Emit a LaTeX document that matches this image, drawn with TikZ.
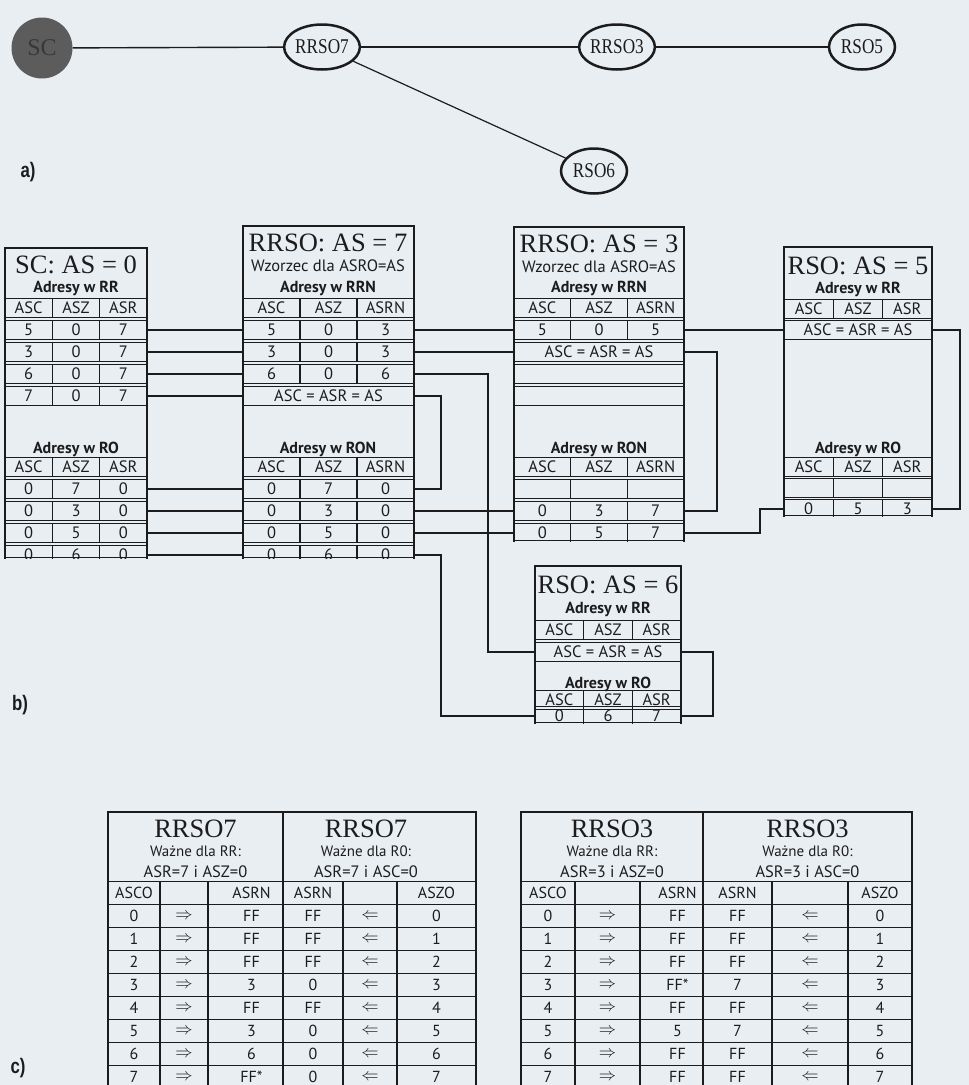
\documentclass[tikz,border=0pt]{standalone}
\usepackage{fontspec}
\setmainfont{Liberation Serif}
\newfontfamily\sansf{PT Sans}
\newfontfamily\narrowserif[FakeStretch=0.82]{Liberation Serif}
\newfontfamily\labf[FakeStretch=0.8]{Liberation Sans}
\usetikzlibrary{shapes.geometric}
\definecolor{bg}{HTML}{E9EEF3}
\definecolor{ink}{HTML}{1C1C1C}
\definecolor{scfill}{HTML}{5C5C5C}
\definecolor{sctext}{HTML}{383838}

\newcommand{\trow}[7]{%
  \node[rowbox,minimum width={(#3-#2)*1pt}] (#1) at ({(#2+#3)/2},#4) {};
  \draw[cellsep] ({#2+(#3-#2)/3},#4-9.5) -- ({#2+(#3-#2)/3},#4+9.5);
  \draw[cellsep] ({#2+2*(#3-#2)/3},#4-9.5) -- ({#2+2*(#3-#2)/3},#4+9.5);
  \node[cell] (#1-a) at ({#2+(#3-#2)/6},#4) {#5};
  \node[cell] (#1-b) at ({(#2+#3)/2},#4) {#6};
  \node[cell] (#1-c) at ({#2+5*(#3-#2)/6},#4) {#7};
}
\newcommand{\mrow}[5]{%
  \node[rowbox,minimum width={(#3-#2)*1pt}] (#1) at ({(#2+#3)/2},#4) {#5};
}
\newcommand{\crow}[8]{%
  \node[crowbox,minimum width={(\cR-\cL)*1pt}] (#1) at ({(\cL+\cR)/2},#2) {};
  \foreach \xx in {\cA,\cB,\cD,\cE}{\draw[cellsep] (\xx,#2-11.4) -- (\xx,#2+11.4);}
  \node[ccell] (#1-1) at ({(\cL+\cA)/2},#2) {#3};
  \node[ccell] (#1-2) at ({(\cA+\cB)/2},#2) {#4};
  \node[ccell] (#1-3) at ({(\cB+\cM)/2+6},#2) {#5};
  \node[ccell] (#1-4) at ({(\cM+\cD)/2},#2) {#6};
  \node[ccell] (#1-5) at ({(\cD+\cE)/2},#2) {#7};
  \node[ccell] (#1-6) at ({(\cE+\cR)/2},#2) {#8};
}
\newcommand{\ra}{{\fontsize{18}{18}\selectfont$\Rightarrow$}}
\newcommand{\la}{{\fontsize{18}{18}\selectfont$\Leftarrow$}}

\begin{document}
\begin{tikzpicture}[x=1pt,y=-1pt,
  tline/.style={draw=ink,line width=1.4pt},
  cellsep/.style={draw=ink,line width=1.1pt},
  conn/.style={draw=ink,line width=1.4pt},
  rowbox/.style={draw=ink,line width=1.3pt,rectangle,inner sep=0pt,minimum height=19pt,text=ink,font=\sansf\fontsize{16.5}{16.5}\selectfont},
  crowbox/.style={draw=ink,line width=1.1pt,rectangle,inner sep=0pt,minimum height=22.9pt},
  cell/.style={inner sep=0pt,text=ink,font=\sansf\fontsize{16.5}{16.5}\selectfont},
  ccell/.style={inner sep=0pt,text=ink,font=\sansf\fontsize{16}{16}\selectfont},
  ttl/.style={inner sep=0pt,text=ink,font=\fontsize{26.5}{26.5}\selectfont},
  sub/.style={inner sep=0pt,text=ink,font=\sansf\bfseries\fontsize{16}{16}\selectfont},
  wz/.style={inner sep=0pt,text=ink,font=\sansf\fontsize{16.5}{16.5}\selectfont},
  wn/.style={inner sep=0pt,text=ink,font=\sansf\fontsize{15}{15}\selectfont},
  net/.style={ellipse,draw=ink,line width=2.5pt,inner sep=0pt,minimum width=70pt,minimum height=45pt,font=\narrowserif\fontsize{21}{21}\selectfont,text=ink},
  lab/.style={inner sep=0pt,text=ink,font=\labf\bfseries\fontsize{21}{21}\selectfont},
  netline/.style={draw=ink,line width=1.4pt},
]
\fill[bg] (0,0) rectangle (969,1085);
\useasboundingbox (0,0) rectangle (969,1085);

% ---------------- a) ----------------
\node[circle,fill=scfill,minimum size=61pt,inner sep=0pt,text=sctext,font=\fontsize{24}{24}\selectfont] (sc) at (42,48) {SC};
\node[net] (rrso7) at (322,47) {RRSO7};
\node[net,minimum width=74pt] (rrso3) at (617,47) {RRSO3};
\node[net,minimum width=66pt] (rso5) at (862,47) {RSO5};
\node[net,minimum width=66pt] (rso6) at (594,171) {RSO6};
\draw[netline] (sc) -- (rrso7);
\draw[netline,line width=2.4pt] (rrso7) -- (rrso3);
\draw[netline] (rrso3) -- (rso5);
\draw[netline,line width=1.2pt] (rrso7) -- (rso6);
\node[lab] (la) at (28,172) {a)};

% ---------------- b) SC ----------------
\begin{scope}
\clip (3,240) rectangle (149,558);
\node[ttl] (sct) at (76,265) {SC: AS = 0};
\node[sub] (scs1) at (76,288) {Adresy w RR};
\trow{sch1}{5}{147}{308}{ASC}{ASZ}{ASR}
\trow{sc1}{5}{147}{330}{5}{0}{7}
\trow{sc2}{5}{147}{352}{3}{0}{7}
\trow{sc3}{5}{147}{374}{6}{0}{7}
\trow{sc4}{5}{147}{396}{7}{0}{7}
\node[sub] (scs2) at (76,449) {Adresy w RO};
\trow{sch2}{5}{147}{467}{ASC}{ASZ}{ASR}
\trow{sc5}{5}{147}{489}{0}{7}{0}
\trow{sc6}{5}{147}{511}{0}{3}{0}
\trow{sc7}{5}{147}{533}{0}{5}{0}
\trow{sc8}{5}{147}{555}{0}{6}{0}
\end{scope}
\draw[tline] (5,556.5) -- (5,248) -- (147,248) -- (147,556.5);
\draw[tline] (5,557.5) -- (147,557.5);

% ---------------- b) RRSO7 ----------------
\begin{scope}
\clip (241,220) rectangle (416,558);
\node[ttl] (at7) at (328,243) {RRSO: AS = 7};
\node[wz] (aw) at (328,266) {Wzorzec dla ASRO=AS};
\node[sub] (as1) at (328,288) {Adresy w RRN};
\trow{rAh1}{243}{414}{308}{ASC}{ASZ}{ASRN}
\trow{rA1}{243}{414}{330}{5}{0}{3}
\trow{rA2}{243}{414}{352}{3}{0}{3}
\trow{rA3}{243}{414}{374}{6}{0}{6}
\mrow{rA4}{243}{414}{396}{ASC = ASR = AS}
\node[sub] (as2) at (328,449) {Adresy w RON};
\trow{rAh2}{243}{414}{467}{ASC}{ASZ}{ASRN}
\trow{rA5}{243}{414}{489}{0}{7}{0}
\trow{rA6}{243}{414}{511}{0}{3}{0}
\trow{rA7}{243}{414}{533}{0}{5}{0}
\trow{rA8}{243}{414}{555}{0}{6}{0}
\end{scope}
\draw[tline] (243,556.5) -- (243,226) -- (414,226) -- (414,556.5);
\draw[tline] (243,557.5) -- (414,557.5);

% ---------------- b) RRSO3 ----------------
\begin{scope}
\clip (512,220) rectangle (686,541);
\node[ttl] (bt) at (599,244) {RRSO: AS = 3};
\node[wz] (bw) at (599,267) {Wzorzec dla ASRO=AS};
\node[sub] (bs1) at (599,288) {Adresy w RRN};
\trow{rBh1}{514}{684}{308}{ASC}{ASZ}{ASRN}
\trow{rB1}{514}{684}{330}{5}{0}{5}
\mrow{rB2}{514}{684}{352}{ASC = ASR = AS}
\mrow{rB3}{514}{684}{374}{}
\mrow{rB4}{514}{684}{396}{}
\node[sub] (bs2) at (599,449) {Adresy w RON};
\trow{rBh2}{514}{684}{467}{ASC}{ASZ}{ASRN}
\trow{rB5}{514}{684}{489}{}{}{}
\trow{rB6}{514}{684}{511}{0}{3}{7}
\trow{rB7}{514}{684}{533}{0}{5}{7}
\end{scope}
\draw[tline] (514,540) -- (514,227) -- (684,227) -- (684,540);
\draw[tline] (514,540.5) -- (684,540.5);

% ---------------- b) RSO5 ----------------
\begin{scope}
\clip (782,240) rectangle (934,516);
\node[ttl] (ct) at (858,266) {RSO: AS = 5};
\node[sub] (cs1) at (858,289) {Adresy w RR};
\trow{rCh1}{784}{932}{309}{ASC}{ASZ}{ASR}
\mrow{rC1}{784}{932}{330}{ASC = ASR = AS}
\node[sub] (cs2) at (858,449) {Adresy w RO};
\trow{rCh2}{784}{932}{467}{ASC}{ASZ}{ASR}
\trow{rC2}{784}{932}{488}{}{}{}
\trow{rC3}{784}{932}{509}{0}{5}{3}
\end{scope}
\draw[tline] (784,515) -- (784,247) -- (932,247) -- (932,515);
\draw[tline] (784,515.5) -- (932,515.5);

% ---------------- b) RSO6 ----------------
\begin{scope}
\clip (533,560) rectangle (683,723);
\node[ttl] (dt) at (608,585) {RSO: AS = 6};
\node[sub] (ds1) at (608,609) {Adresy w RR};
\trow{rDh1}{535}{681}{630}{ASC}{ASZ}{ASR}
\mrow{rD1}{535}{681}{652}{ASC = ASR = AS}
\node[sub] (ds2) at (608,684) {Adresy w RO};
\trow{rDh2}{535}{681}{700}{ASC}{ASZ}{ASR}
\trow{rD2}{535}{681}{716}{0}{6}{7}
\end{scope}
\draw[tline] (535,722) -- (535,566) -- (681,566) -- (681,722);
\draw[tline] (535,722.5) -- (681,722.5);

\node[lab] (lb) at (20,705) {b)};

% ---------------- b) connectors ----------------
\coordinate (jA) at (488,0);
\coordinate (jB) at (441,0);
\coordinate (jC) at (717,0);
\coordinate (jD) at (960,0);
\coordinate (jE) at (713,0);
\coordinate (jF) at (760,0);
\foreach \i in {1,...,8}{\draw[conn] (sc\i.east) -- (rA\i.west);}
\draw[conn] (rA1.east) -- (rB1.west);
\draw[conn] (rA2.east) -- (rB2.west);
\draw[conn] (rA3.east) -- (rA3.east -| jA) |- (rD1.west);
\draw[conn] (rA4.east) -- (rA4.east -| jB) |- (rA5.east);
\draw[conn] (rA6.east) -- (rB6.west);
\draw[conn] (rA7.east) -- (rB7.west);
\draw[conn] (rA8.east) -- (rA8.east -| jB) |- (rD2.west);
\draw[conn] (rB1.east) -- (rC1.west);
\draw[conn] (rB2.east) -- (rB2.east -| jC) |- (rB6.east);
\draw[conn] (rB7.east) -- (rB7.east -| jF) |- (rC3.west);
\draw[conn] (rC1.east) -- (rC1.east -| jD) |- (rC3.east);
\draw[conn] (rD1.east) -- (rD1.east -| jE) |- (rD2.east);

% ---------------- c) left ----------------
\def\cL{108}\def\cA{160}\def\cB{208}\def\cM{283}\def\cD{343}\def\cE{397}\def\cR{476}
\node[ttl] (e1t) at ({(\cL+\cM)/2},829) {RRSO7};
\node[wn] (e1w) at ({(\cL+\cM)/2},851) {Ważne dla RR:};
\node[wz] (e1a) at ({(\cL+\cM)/2},872) {ASR=7 i ASZ=0};
\node[ttl] (e2t) at (366,829) {RRSO7};
\node[wn] (e2w) at (366,851) {Ważne dla R0:};
\node[wz] (e2a) at (366,872) {ASR=7 i ASC=0};
\crow{eh}{893}{ASCO}{}{ASRN}{ASRN}{}{ASZO}
\crow{e0}{916}{0}{\ra}{FF}{FF}{\la}{0}
\crow{e1}{939}{1}{\ra}{FF}{FF}{\la}{1}
\crow{e2}{962}{2}{\ra}{FF}{FF}{\la}{2}
\crow{e3}{985}{3}{\ra}{3}{0}{\la}{3}
\crow{e4}{1008}{4}{\ra}{FF}{FF}{\la}{4}
\crow{e5}{1031}{5}{\ra}{3}{0}{\la}{5}
\crow{e6}{1054}{6}{\ra}{6}{0}{\la}{6}
\crow{e7}{1077}{7}{\ra}{FF*}{0}{\la}{7}
\draw[tline] (\cL,1095) -- (\cL,812) -- (\cR,812) -- (\cR,1095);
\draw[tline] (\cM,812) -- (\cM,1095);

% ---------------- c) right ----------------
\def\cL{521}\def\cA{575}\def\cB{640}\def\cM{703}\def\cD{772}\def\cE{848}\def\cR{912}
\node[ttl] (f1t) at ({(\cL+\cM)/2},829) {RRSO3};
\node[wn] (f1w) at ({(\cL+\cM)/2},851) {Ważne dla RR:};
\node[wz] (f1a) at ({(\cL+\cM)/2},872) {ASR=3 i ASZ=0};
\node[ttl] (f2t) at ({(\cM+\cR)/2},829) {RRSO3};
\node[wn] (f2w) at ({(\cM+\cR)/2},851) {Ważne dla R0:};
\node[wz] (f2a) at ({(\cM+\cR)/2},872) {ASR=3 i ASC=0};
\crow{fh}{893}{ASCO}{}{ASRN}{ASRN}{}{ASZO}
\crow{f0}{916}{0}{\ra}{FF}{FF}{\la}{0}
\crow{f1}{939}{1}{\ra}{FF}{FF}{\la}{1}
\crow{f2}{962}{2}{\ra}{FF}{FF}{\la}{2}
\crow{f3}{985}{3}{\ra}{FF*}{7}{\la}{3}
\crow{f4}{1008}{4}{\ra}{FF}{FF}{\la}{4}
\crow{f5}{1031}{5}{\ra}{5}{7}{\la}{5}
\crow{f6}{1054}{6}{\ra}{FF}{FF}{\la}{6}
\crow{f7}{1077}{7}{\ra}{FF}{FF}{\la}{7}
\draw[tline] (\cL,1095) -- (\cL,812) -- (\cR,812) -- (\cR,1095);
\draw[tline] (\cM,812) -- (\cM,1095);

\node[lab] (lc) at (18,1068) {c)};
\end{tikzpicture}
\end{document}
